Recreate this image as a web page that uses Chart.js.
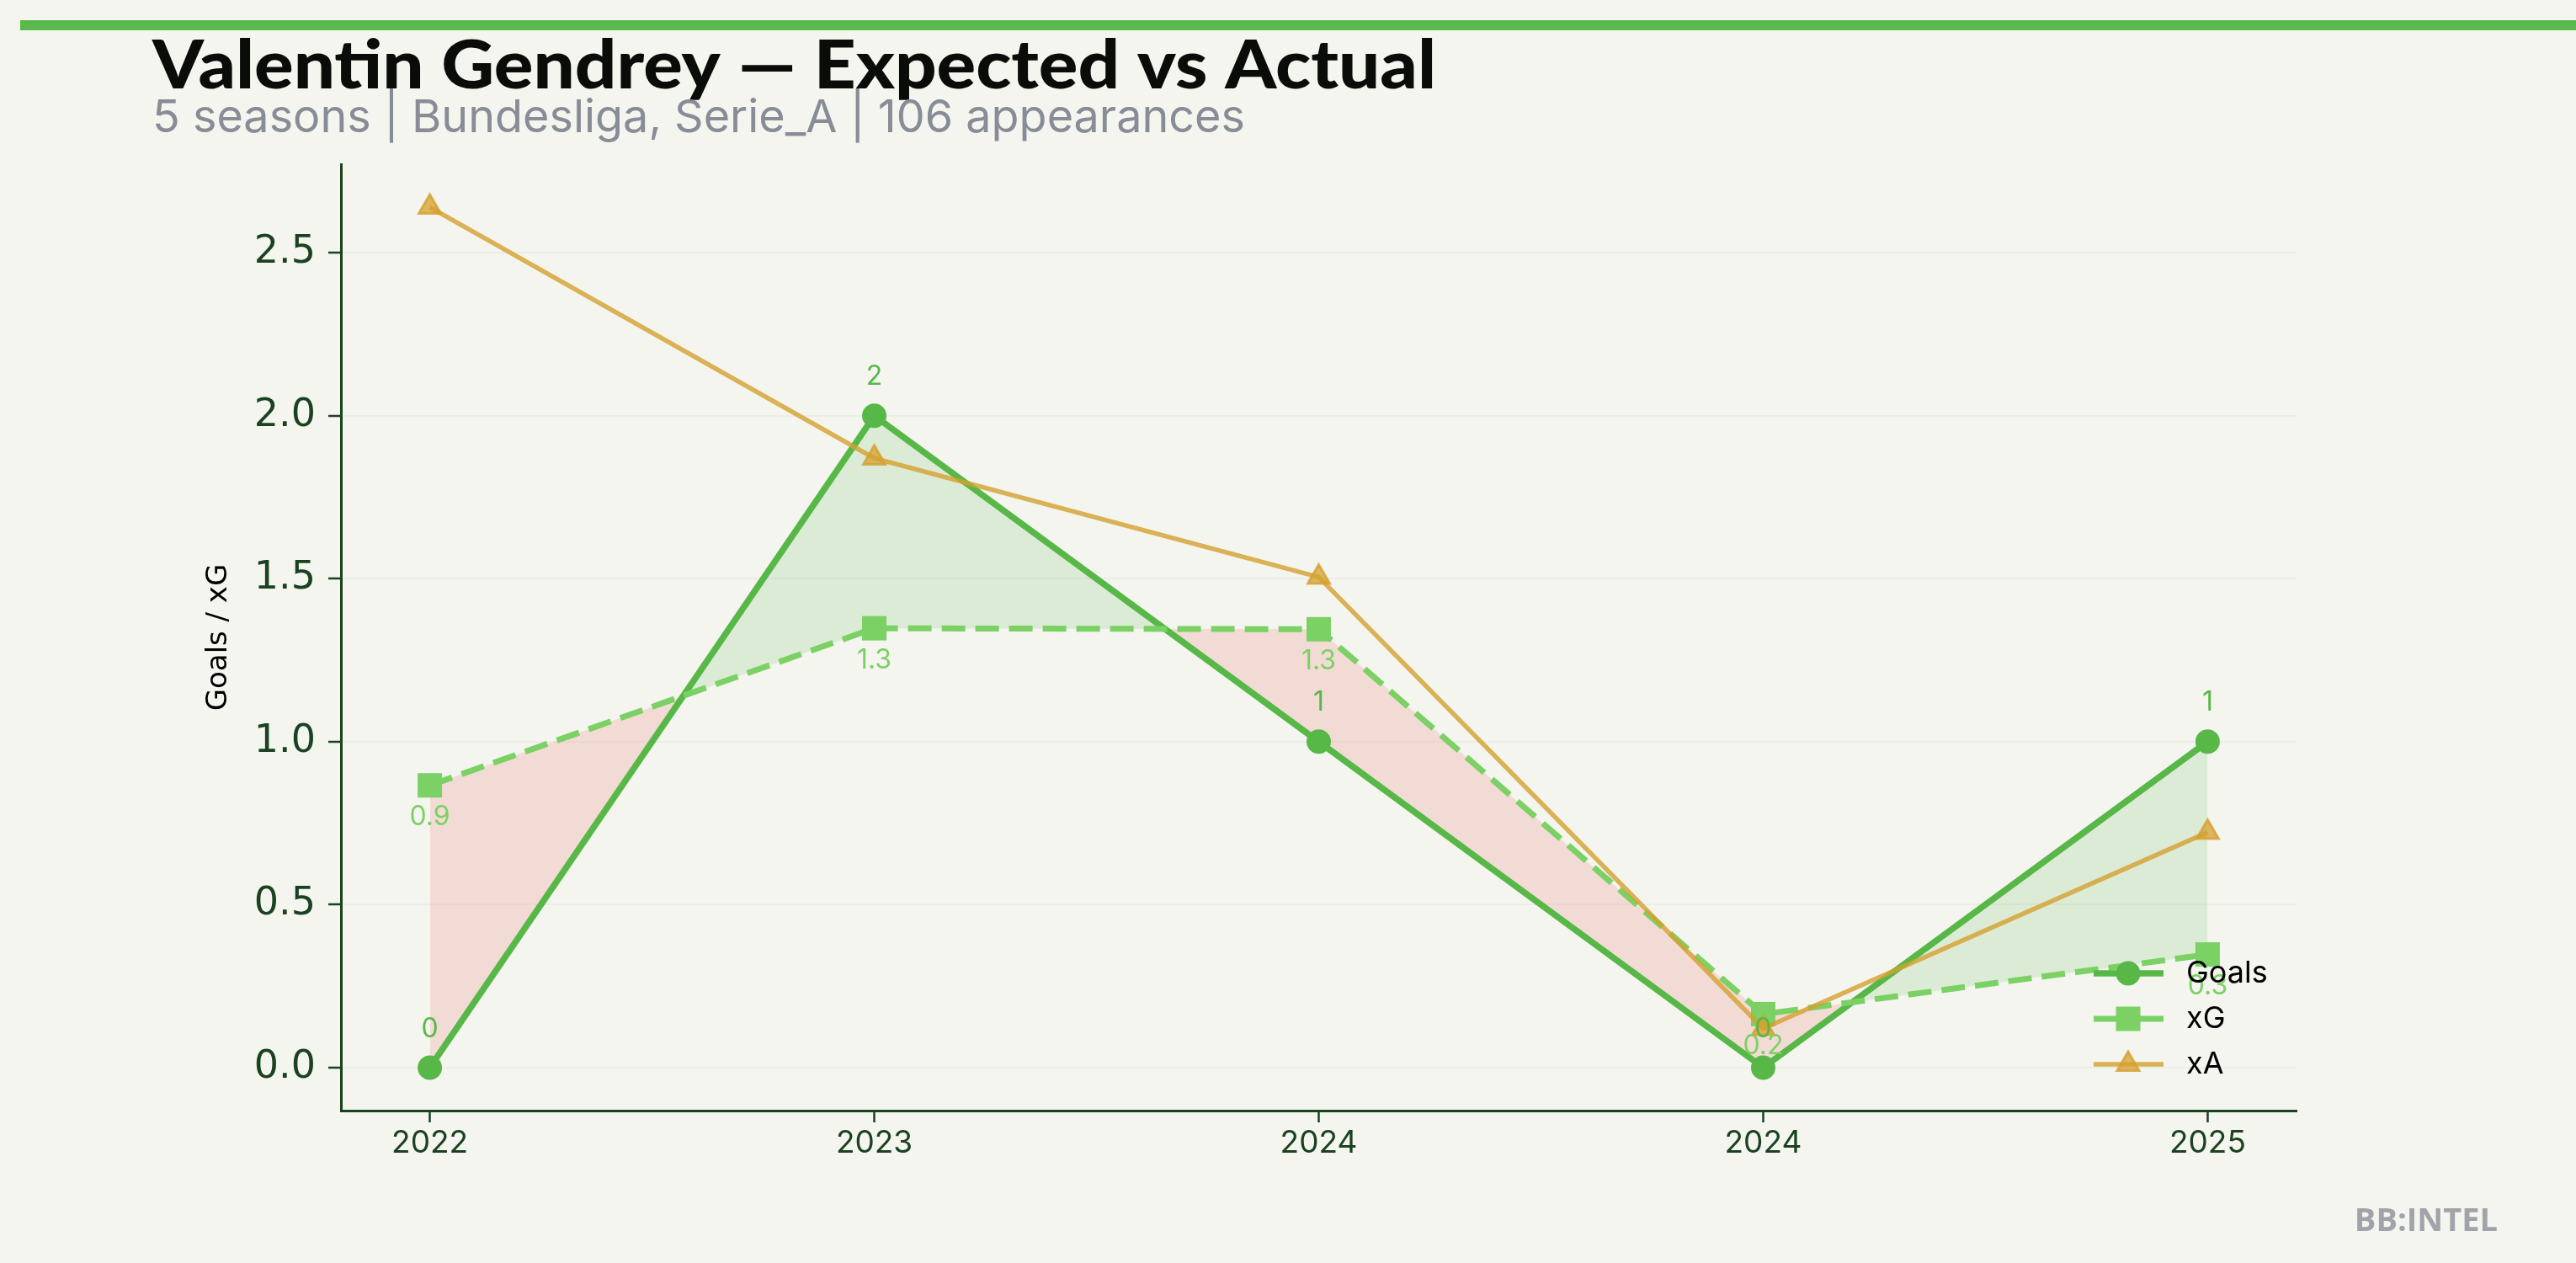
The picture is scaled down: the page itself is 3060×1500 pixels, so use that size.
<!DOCTYPE html>
<html>
<head>
<meta charset="utf-8">
<script src="https://cdn.jsdelivr.net/npm/chart.js@4.4.1/dist/chart.umd.min.js"></script>
<style>
html, body { margin: 0; padding: 0; background: #f4f5ef; }
canvas { display: block; }
</style>
</head>
<body>
<canvas id="chart" width="3060" height="1500"></canvas>
<script>
const seasons = ['2022', '2023', '2024', '2024', '2025']
const goals = [0, 2, 1, 0, 1]
const xg = [0.866, 1.348, 1.345, 0.164, 0.347]
const xa = [2.64, 1.87, 1.505, 0.12, 0.722]
const yTicks = [0, 0.5, 1.0, 1.5, 2.0, 2.5]

const title = 'Valentin Gendrey \u2014 Expected vs Actual'
const subtitle = '5 seasons | Bundesliga, Serie_A | 106 appearances'
const yLabel = 'Goals / xG'
const mark = 'BB:INTEL'

const bg = '#f4f5ef'
const green = '#57b847'
const light = '#7bd163'
const gold = 'rgba(212,160,48,0.8)'
const axisCol = '#1b4220'

let zip = (xs, ys) => ys.map((y, i) => ({ x: i, y: y }))

// matplotlib style 5% margins
const all = goals.concat(xg, xa)
const lo = Math.min(...all), hi = Math.max(...all)
const pad = (hi - lo) * 0.05

function fitText(ctx, text, x, y, width, font, color) {
  ctx.save()
  ctx.font = font
  ctx.fillStyle = color
  ctx.textBaseline = 'alphabetic'
  const w = ctx.measureText(text).width
  ctx.translate(x, y)
  ctx.scale(width / w, 1)
  ctx.fillText(text, 0, 0)
  ctx.restore()
}

const decor = {
  id: 'decor',
  beforeDraw(chart) {
    const ctx = chart.ctx
    ctx.save()
    ctx.fillStyle = bg
    ctx.fillRect(0, 0, chart.width, chart.height)
    ctx.fillStyle = '#5ab94b'
    ctx.fillRect(24, 24, chart.width - 24, 12)
    ctx.restore()
    fitText(ctx, title, 181, 105, 1525, '900 80px Lato', '#0a0c0a')
    fitText(ctx, subtitle, 181, 157, 1298, '54px Inter', '#878c96')
    ctx.save()
    ctx.font = 'bold 38px "Open Sans"'
    ctx.fillStyle = '#a0a4aa'
    ctx.textAlign = 'right'
    ctx.fillText(mark, 2967, 1462)
    ctx.restore()
  }
}

const valueLabels = {
  id: 'valueLabels',
  afterDatasetsDraw(chart) {
    const ctx = chart.ctx
    ctx.save()
    ctx.font = '32px Inter'
    ctx.textAlign = 'center'
    ctx.textBaseline = 'middle'
    ctx.fillStyle = green
    chart.getDatasetMeta(0).data.forEach((p, i) => ctx.fillText(goals[i].toFixed(0), p.x, p.y - 46))
    ctx.fillStyle = light
    chart.getDatasetMeta(1).data.forEach((p, i) => ctx.fillText(xg[i].toFixed(1), p.x, p.y + 38))
    ctx.restore()
  }
}

const legendBox = {
  id: 'legendBox',
  afterDraw(chart) {
    const ctx = chart.ctx
    const area = chart.chartArea
    const drawPoint = Chart.helpers.drawPoint
    const x0 = area.right - 241, x1 = area.right - 158, xm = area.right - 200
    chart.data.datasets.forEach((ds, i) => {
      const y = area.bottom - 163 + i * 54
      ctx.save()
      ctx.strokeStyle = ds.borderColor
      ctx.lineWidth = ds.borderWidth
      ctx.beginPath()
      ctx.moveTo(x0, y)
      ctx.lineTo(x1, y)
      ctx.stroke()
      ctx.fillStyle = ds.pointBackgroundColor
      ctx.strokeStyle = ds.pointBorderColor
      ctx.lineWidth = ds.pointBorderWidth
      drawPoint(ctx, { pointStyle: ds.pointStyle, radius: ds.pointRadius, rotation: 0, borderWidth: ds.pointBorderWidth }, xm, y)
      ctx.fillStyle = '#000'
      ctx.font = '36px Inter'
      ctx.textBaseline = 'middle'
      ctx.fillText(ds.label, area.right - 131, y)
      ctx.restore()
    })
  }
}

const ctx = document.getElementById('chart')
new Chart(ctx, {
  type: 'line',
  data: {
    datasets: [
      {
        label: 'Goals',
        data: zip(seasons, goals),
        borderColor: green,
        borderWidth: 7.5,
        pointStyle: 'circle',
        pointRadius: 14.5,
        pointBackgroundColor: green,
        pointBorderColor: green,
        pointBorderWidth: 0,
        fill: { target: 1, above: 'rgba(87,184,71,0.15)', below: 'rgba(240,96,90,0.17)' },
        order: 3
      }, {
        label: 'xG',
        data: zip(seasons, xg),
        borderColor: light,
        borderWidth: 7,
        borderDash: [28, 12],
        pointStyle: 'rect',
        pointRadius: 20.5,
        pointBackgroundColor: light,
        pointBorderColor: light,
        pointBorderWidth: 0,
        fill: false,
        order: 2
      }, {
        label: 'xA',
        data: zip(seasons, xa),
        borderColor: gold,
        borderWidth: 5.5,
        pointStyle: 'triangle',
        pointRadius: 15,
        pointBackgroundColor: 'rgba(212,160,48,0.75)',
        pointBorderColor: gold,
        pointBorderWidth: 3,
        fill: false,
        order: 1
      }
    ]
  },
  options: {
    responsive: false,
    devicePixelRatio: 1,
    animation: false,
    events: [],
    layout: { padding: { top: 195, right: 332, left: 236, bottom: 0 } },
    plugins: {
      legend: { display: false },
      tooltip: { enabled: false },
      filler: { drawTime: 'beforeDatasetsDraw' }
    },
    scales: {
      x: {
        type: 'linear',
        min: -0.2,
        max: 4.2,
        afterBuildTicks: s => { s.ticks = seasons.map((_, i) => ({ value: i })) },
        afterFit: s => { s.height = 181 },
        ticks: {
          callback: v => seasons[Math.round(v)],
          font: { family: 'Inter', size: 37 },
          color: axisCol,
          padding: 3,
          maxRotation: 0
        },
        grid: { drawOnChartArea: false, tickColor: axisCol, tickLength: 14, tickWidth: 2.5 },
        border: { display: true, color: axisCol, width: 3 }
      },
      y: {
        type: 'linear',
        min: lo - pad,
        max: hi + pad,
        afterBuildTicks: s => { s.ticks = yTicks.map(v => ({ value: v })) },
        afterFit: s => { s.width = 169 },
        ticks: {
          callback: v => v.toFixed(1),
          font: { family: 'DejaVu Sans', size: 46 },
          color: axisCol,
          padding: 15
        },
        grid: { color: 'rgba(0,0,0,0.03)', lineWidth: 2, tickColor: axisCol, tickLength: 15, tickWidth: 2.5 },
        border: { display: true, color: axisCol, width: 3 },
        title: {
          display: true,
          text: yLabel,
          color: '#000',
          font: { family: 'DejaVu Sans', size: 34 },
          padding: { top: 4, bottom: 4 }
        }
      }
    }
  },
  plugins: [decor, valueLabels, legendBox]
})
</script>
</body>
</html>
